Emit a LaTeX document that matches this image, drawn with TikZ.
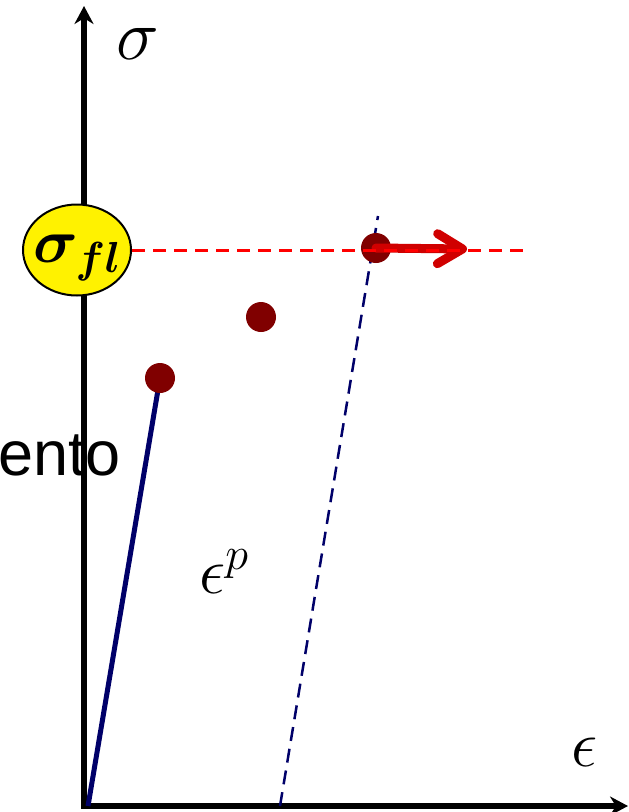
\RequirePackage{fix-cm}
\documentclass[tikz,border=0pt]{standalone}
\usepackage{amsmath, amssymb}
\usepackage{fontspec}
\setsansfont{Liberation Sans}
\usepackage{tikz}
\usetikzlibrary{arrows.meta, shapes.geometric}

\definecolor{navyline}{RGB}{0,0,105}
\definecolor{dotred}{RGB}{128,0,0}
\definecolor{pushred}{RGB}{208,0,0}

\begin{document}
\begin{tikzpicture}[x=1pt, y=-1pt,
  dot/.style={circle, fill=dotred, inner sep=0pt, minimum size=30pt},
  lbl/.style={inner sep=0pt}]
  \useasboundingbox (0,0) rectangle (629,812);
  \coordinate (o) at (84,806);
  \coordinate (ytop) at (84,6);
  \coordinate (xend) at (628,806);
  \coordinate (ubase) at (88,806);
  \coordinate (p1) at (160,378);
  \coordinate (p2) at (261,317);
  \coordinate (p3) at (376,248);
  \coordinate (ubot) at (280,806);
  \coordinate (utop) at (378,216);
  \coordinate (push) at (467,249);
  \coordinate (fltail) at (530,250);
  % labels
  \node[lbl, font=\sffamily\fontsize{63}{70}\selectfont, anchor=base west] (hard) at (-2,475) {ento};
  \node[lbl, font=\fontsize{72}{80}\selectfont] (sig) at (138,44) {$\sigma$};
  \node[lbl, font=\fontsize{66}{70}\selectfont] (ep) at (224,572) {$\epsilon^{p}$};
  \node[lbl, font=\fontsize{66}{70}\selectfont] (eps) at (585,752) {$\epsilon$};
  % axes
  \draw[line width=6pt, {Stealth[length=18pt, width=19pt]}-{Stealth[length=18pt, width=19pt]}] (ytop) -- (o) -- (xend);
  \node[ellipse, draw, line width=2pt, fill=yellow, minimum width=108pt, minimum height=91pt, inner sep=0pt] (sfl) at (77,250) {};
  \node[lbl, font=\fontsize{62}{70}\selectfont] (sfltext) at ([yshift=-8pt]sfl.center) {$\boldsymbol{\sigma_{fl}}$};
  % loading and unloading
  \draw[navyline, line width=5pt] (ubase) -- (p1);
  \draw[navyline, line width=2.5pt, dash pattern=on 14pt off 8pt] (ubot) -- (utop);
  \node[dot] (d1) at (p1) {};
  \node[dot] (d2) at (p2) {};
  \node[dot] (d3) at (p3) {};
  \draw[pushred, line width=9pt, line cap=round, -{Straight Barb[length=25pt, width=30pt, round]}] (d3.center) -- (push);
  \draw[red, line width=3pt, dash pattern=on 13pt off 8pt] (sfl.east) -- (fltail);
\end{tikzpicture}
\end{document}
